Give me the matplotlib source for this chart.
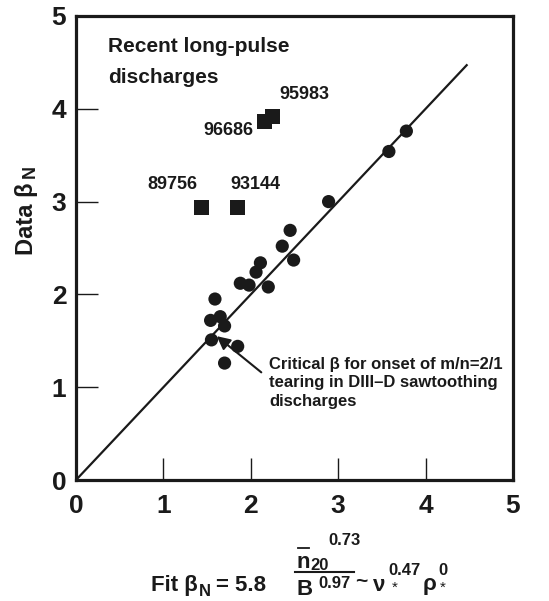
import numpy as np
import matplotlib
matplotlib.use("Agg")
from matplotlib import pyplot as plt
from matplotlib.lines import Line2D

# circles: sawtoothing discharges (x = fit beta_N, y = data beta_N)
circle_x = [3.78, 3.58, 2.89, 2.45, 2.36, 2.49, 2.11, 2.06, 1.88, 1.98, 2.20,
            1.59, 1.54, 1.65, 1.70, 1.55, 1.85, 1.70]
circle_y = [3.76, 3.54, 3.00, 2.69, 2.52, 2.37, 2.34, 2.24, 2.12, 2.10, 2.08,
            1.95, 1.72, 1.76, 1.66, 1.51, 1.44, 1.26]

# squares: recent long-pulse discharges
shot_names = ["89756", "93144", "96686", "95983"]
square_x = [1.44, 1.85, 2.16, 2.25]
square_y = [2.94, 2.94, 3.86, 3.92]
# label centres for each shot number
label_x = [1.10, 2.05, 1.74, 2.61]
label_y = [3.18, 3.18, 3.77, 4.15]

fit_line_end = 4.47
ticks = [0, 1, 2, 3, 4, 5]

W, H = 549, 601
plt.rcParams["font.family"] = ["Liberation Sans", "DejaVu Sans"]
ink = "#1a1a1a"

fig = plt.figure(figsize=(W / 100, H / 100), dpi=100)
# axes box in pixels: left 76, right 513, top 16, bottom 480
ax = fig.add_axes([76 / W, 1 - 480 / H, 437 / W, 464 / H])


# put text at pixel position of the figure
def ftxt(px, py, s, **kw):
    kw.setdefault("color", ink)
    kw.setdefault("fontweight", "bold")
    return fig.text(px / W, 1 - py / H, s, **kw)


def fline(x0, x1, py, lw=1.5):
    fig.add_artist(Line2D([x0 / W, x1 / W], [1 - py / H, 1 - py / H],
                          color=ink, lw=lw, transform=fig.transFigure))


ax.plot([0, fit_line_end], [0, fit_line_end], color=ink, lw=1.6, zorder=2)
ax.scatter(circle_x, circle_y, s=9.5 ** 2, marker="o", color=ink,
           edgecolors="none", zorder=3)
ax.scatter(square_x, square_y, s=11 ** 2, marker="s", color=ink,
           edgecolors="none", zorder=3)

for name, lx, ly in zip(shot_names, label_x, label_y):
    ax.text(lx, ly, name, ha="center", va="center", fontsize=13,
            fontweight="bold", color=ink)

ax.text(0.37, 4.67, "Recent long-pulse", ha="left", va="center",
        fontsize=15, fontweight="bold", color=ink)
ax.text(0.37, 4.34, "discharges", ha="left", va="center",
        fontsize=15, fontweight="bold", color=ink)

ax.annotate("", xy=(1.61, 1.55), xytext=(2.12, 1.16),
            arrowprops=dict(arrowstyle="-|>", color=ink, lw=1.5,
                            mutation_scale=20, shrinkA=0, shrinkB=0))
ax.text(2.21, 1.33,
        "Critical \u03b2 for onset of m/n=2/1\ntearing in DIII\u2013D sawtoothing\ndischarges",
        ha="left", va="top", fontsize=12, fontweight="bold", color=ink,
        linespacing=1.3)

ax.set_xlim(0, 5)
ax.set_ylim(0, 5)
ax.set_xticks(ticks)
ax.set_yticks(ticks)
ax.set_xticklabels([str(t) for t in ticks])
ax.set_yticklabels([str(t) for t in ticks])
ax.tick_params(direction="in", length=16, width=1.0, color=ink,
               labelsize=19, labelcolor=ink)
ax.tick_params(axis="x", pad=10)
ax.tick_params(axis="y", pad=7)
for lab in ax.get_xticklabels() + ax.get_yticklabels():
    lab.set_fontweight("bold")
for sp in ax.spines.values():
    sp.set_linewidth(2.3)
    sp.set_color(ink)

# y label: Data beta_N
ftxt(26, 219, "Data \u03b2", rotation=90, ha="center", va="center", fontsize=17)
ftxt(30, 171, "N", rotation=90, ha="center", va="center", fontsize=13)

# fit formula under the plot
ftxt(151, 591, "Fit \u03b2", ha="left", va="baseline", fontsize=16)
ftxt(199, 596, "N", ha="left", va="baseline", fontsize=12)
ftxt(216, 591, "= 5.8", ha="left", va="baseline", fontsize=16)

ftxt(297, 568, "n", ha="left", va="baseline", fontsize=16)
fline(298, 309, 548, lw=1.3)
ftxt(310, 570, "20", ha="left", va="baseline", fontsize=12)
ftxt(328, 545, "0.73", ha="left", va="baseline", fontsize=12)
fline(295, 354, 572, lw=1.5)
ftxt(297, 595, "B", ha="left", va="baseline", fontsize=16)
ftxt(318, 588, "0.97", ha="left", va="baseline", fontsize=12)
ftxt(361, 582, "~", ha="center", va="center", fontsize=15)
ftxt(373, 591, "\u03bd", ha="left", va="baseline", fontsize=16)
ftxt(388, 575, "0.47", ha="left", va="baseline", fontsize=12)
ftxt(395, 588, "*", ha="center", va="center", fontsize=11, fontweight="normal")
ftxt(423, 590, "\u03c1", ha="left", va="baseline", fontsize=16)
ftxt(438, 575, "0", ha="left", va="baseline", fontsize=12)
ftxt(443, 588, "*", ha="center", va="center", fontsize=11, fontweight="normal")

fig.savefig("out.png", dpi=100)
